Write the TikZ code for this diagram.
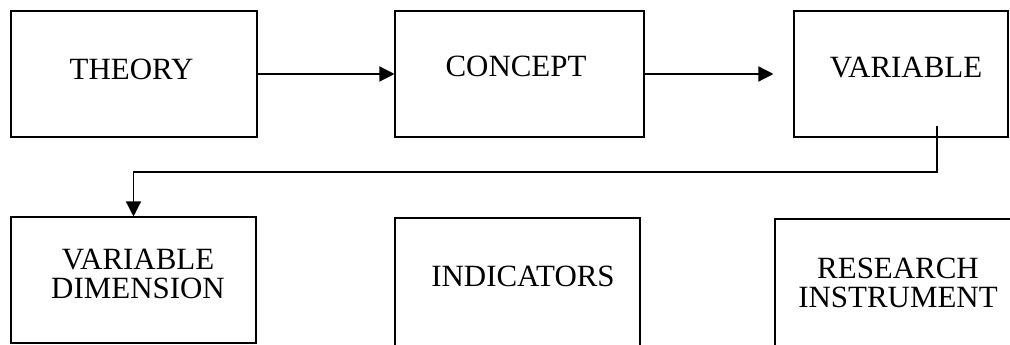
\documentclass[tikz,border=0pt]{standalone}
\usepackage{fontspec}
\setmainfont{Liberation Serif}
\usepackage{tikz}
\usetikzlibrary{arrows.meta}

\begin{document}
\begin{tikzpicture}[
    box/.style={rectangle, draw=black, line width=0.6pt, inner sep=0pt},
    lbl/.style={inner sep=0pt, align=center, font=\fontsize{17.6}{16.5}\selectfont},
    arr/.style={-{Triangle[length=0.3cm, width=0.3cm]}, line width=0.75pt}
]
    \clip (0, 0) rectangle (20.2, 6.9);

    % top row
    \node[box, minimum width=4.92cm, minimum height=2.52cm] (theory) at (2.68, 5.42) {};
    \node[box, minimum width=4.98cm, minimum height=2.52cm] (concept) at (10.39, 5.42) {};
    \node[box, minimum width=4.28cm, minimum height=2.52cm] (variable) at (18.02, 5.42) {};
    \node[lbl] (theorytxt) at (2.63, 5.51) {THEORY};
    \node[lbl] (concepttxt) at (10.32, 5.57) {CONCEPT};
    \node[lbl] (variabletxt) at (18.12, 5.55) {VARIABLE};

    % bottom row
    \node[box, minimum width=4.90cm, minimum height=2.52cm] (vardim) at (2.67, 1.30) {};
    \node[box, minimum width=4.90cm, minimum height=2.74cm] (indicators) at (10.35, 1.17) {};
    \node[box, minimum width=5.00cm, minimum height=2.72cm] (research) at (18.00, 1.16) {};
    \node[lbl] (vardimtxt) at (2.76, 1.42) {VARIABLE\\DIMENSION};
    \node[lbl] (indicatorstxt) at (10.46, 1.38) {INDICATORS};
    \node[lbl] (researchtxt) at (17.96, 1.24) {RESEARCH\\INSTRUMENT};

    % connectors
    \coordinate (vstart) at (18.74, 4.38);
    \coordinate (bend) at (18.74, 3.46);
    \draw[arr] (theory) -- (concept);
    \draw[arr, shorten >=0.4cm] (concept) -- (variable);
    \draw[arr] (vstart) -- (bend) -| (vardim);
\end{tikzpicture}
\end{document}
